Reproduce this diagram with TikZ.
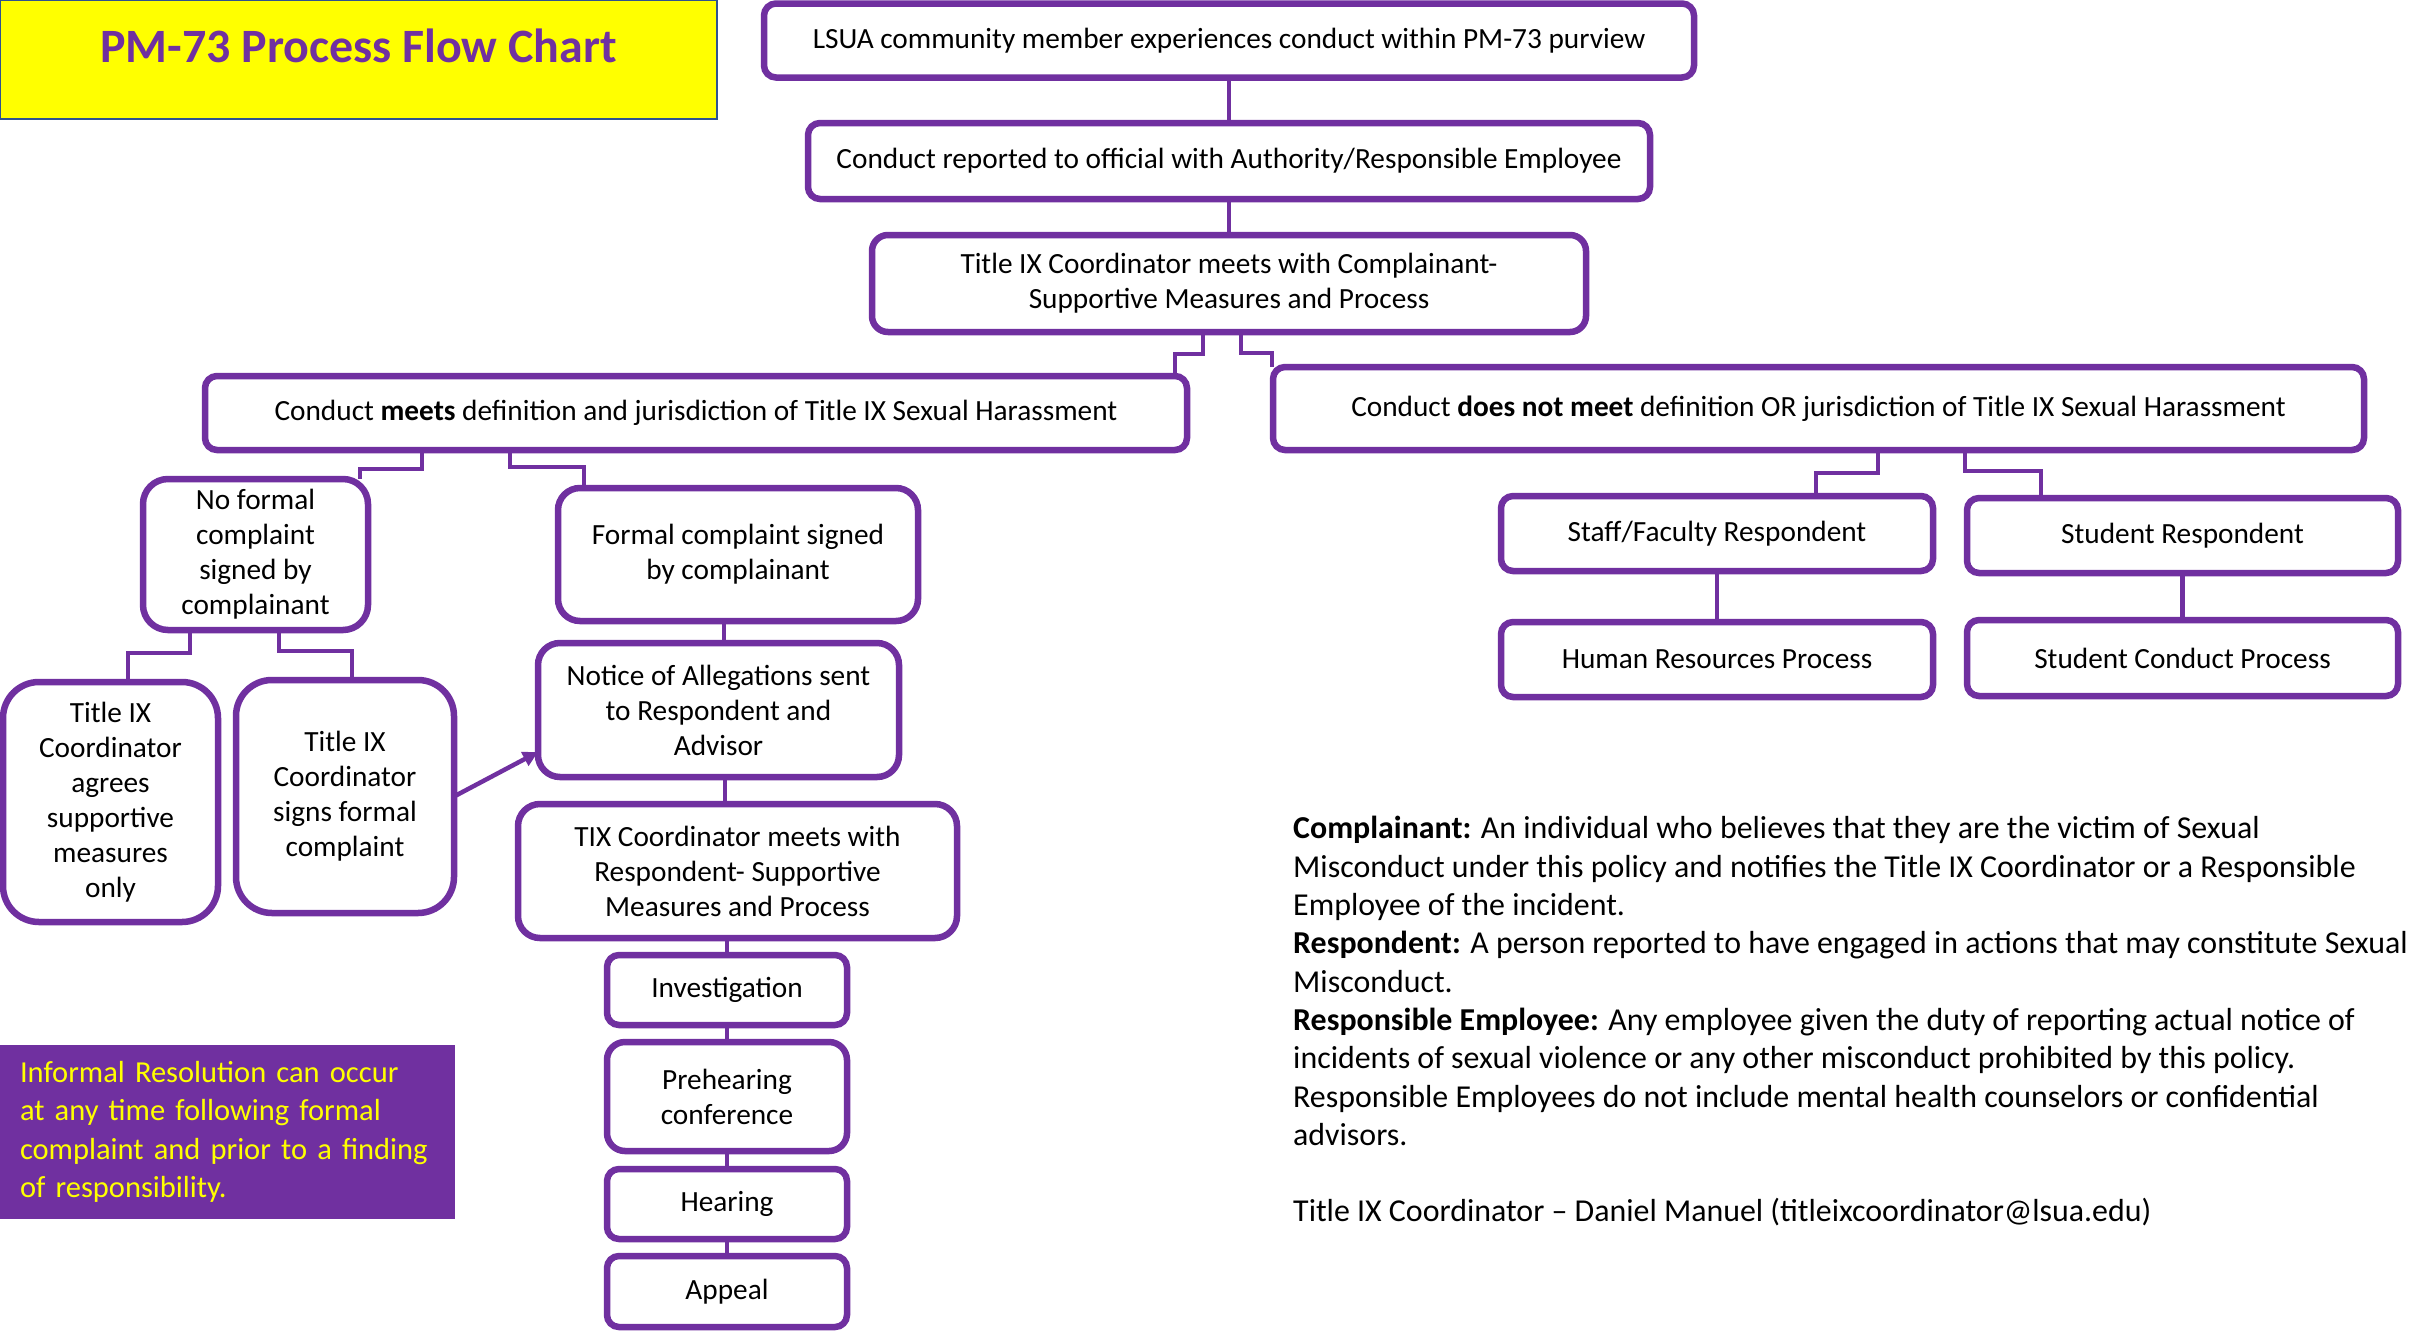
\documentclass[tikz,border=0pt]{standalone}
\usepackage{fontspec}
\setmainfont{Carlito}
\usepackage{xcolor}
\definecolor{pmPurple}{HTML}{7030A0}
\definecolor{pmYellow}{HTML}{FFFF00}
\definecolor{pmBlue}{HTML}{2F528F}
\usepackage{tikz}
\usetikzlibrary{arrows.meta,positioning}
\tikzset{
    box/.style={
        draw=pmPurple,
        fill=white,
        rectangle,
        rounded corners=#1,
        line width=6.5pt,
        align=center,
        inner sep=0pt,
        outer sep=0pt,
        text=black,
        font=\fontsize{29.3}{35}\selectfont
    },
    box/.default=12pt,
    titlebox/.style={
        draw=pmBlue,
        fill=pmYellow,
        rectangle,
        line width=2pt,
        inner sep=0pt,
        outer sep=0pt,
        minimum width=717pt,
        minimum height=119pt,
        text height=34pt,
        text depth=29pt,
        text=pmPurple,
        font=\fontsize{47.9}{57}\selectfont\bfseries
    },
    infobox/.style={
        fill=pmPurple,
        rectangle,
        inner xsep=20pt,
        inner ysep=0pt,
        minimum width=455pt,
        minimum height=174pt,
        text width=415pt,
        align=left,
        text=pmYellow,
        font=\fontsize{30.5}{38.3}\selectfont
    },
    defs/.style={
        align=left,
        inner sep=0pt,
        font=\fontsize{31.9}{38.3}\selectfont
    },
    connector/.style={
        draw=pmPurple,
        line width=4.5pt
    },
    arrow/.style={
        -{Triangle[length=15pt,width=15pt]},
        draw=pmPurple,
        line width=4.5pt
    }
}
\begin{document}
\begin{tikzpicture}[x=1pt,y=-1pt]
    \useasboundingbox (0,0) rectangle (2412,1331);
    % Title
    \node[titlebox] (title) at (358.5,59.5) {PM-73 Process Flow Chart};

    % Main column
    \node[box, minimum width=930pt, minimum height=74pt] (member) at (1229,40.5)
        {LSUA community member experiences conduct within PM-73 purview};
    \node[box, minimum width=842pt, minimum height=76pt, below=45.5pt of member] (report)
        {Conduct reported to official with Authority/Responsible Employee};
    \node[box=16pt, minimum width=714pt, minimum height=97pt, below=36pt of report] (meet)
        {Title IX Coordinator meets with Complainant-\\Supportive Measures and Process};

    % Jurisdiction
    \node[box, minimum width=982pt, minimum height=74pt] (meets) at (696,413)
        {Conduct \textbf{meets} definition and jurisdiction of Title IX Sexual Harassment};
    \node[box, minimum width=1091pt, minimum height=83pt] (notmeets) at (1818.5,408.5)
        {Conduct \textbf{does not meet} definition OR jurisdiction of Title IX Sexual Harassment};

    % Title IX branch
    \node[box=25pt, minimum width=225pt, minimum height=151pt] (noformal) at (255.5,554.5)
        {No formal\\complaint\\signed by\\complainant};
    \node[box=22pt, minimum width=360pt, minimum height=133pt] (formal) at (738,554.5)
        {Formal complaint signed\\by complainant};
    \node[box=22pt, minimum width=361pt, minimum height=134pt, below=22pt of formal, xshift=-19.5pt] (notice)
        {Notice of Allegations sent\\to Respondent and\\Advisor};
    \node[box=22pt, minimum width=439pt, minimum height=134pt, below=27pt of notice, xshift=19pt] (tixmeet)
        {TIX Coordinator meets with\\Respondent- Supportive\\Measures and Process};
    \node[box, minimum width=240pt, minimum height=70pt, below=17pt of tixmeet, xshift=-10.5pt] (investigation)
        {Investigation};
    \node[box=18pt, minimum width=240pt, minimum height=109pt, below=17pt of investigation] (prehearing)
        {Prehearing\\conference};
    \node[box, minimum width=240pt, minimum height=70pt, below=18pt of prehearing] (hearing)
        {Hearing};
    \node[box, minimum width=240pt, minimum height=71pt, below=17pt of hearing] (appeal)
        {Appeal};
    \node[box=36pt, minimum width=215pt, minimum height=240pt] (agrees) at (110.5,802)
        {Title IX\\Coordinator\\agrees\\supportive\\measures\\only};
    \node[box=36pt, minimum width=218pt, minimum height=233pt] (signs) at (345,796.5)
        {Title IX\\Coordinator\\signs formal\\complaint};
    \node[infobox] (informal) at (227.5,1132)
        {Informal Resolution can occur\\at any time following formal\\complaint and prior to a finding\\of responsibility.};

    % Other branch
    \node[box, minimum width=432pt, minimum height=75pt] (staff) at (1717,533.5)
        {Staff/Faculty Respondent};
    \node[box, minimum width=431pt, minimum height=75pt] (student) at (2182.5,535.5)
        {Student Respondent};
    \node[box, minimum width=432pt, minimum height=75pt, below=51pt of staff] (hr)
        {Human Resources Process};
    \node[box, minimum width=431pt, minimum height=76pt, below=47pt of student] (conductproc)
        {Student Conduct Process};

    % Definitions
    \node[defs, anchor=west] (terms) at (1293,1021.5)
        {\textbf{Complainant:} An individual who believes that they are the victim of Sexual\\
         Misconduct under this policy and notifies the Title IX Coordinator or a Responsible\\
         Employee of the incident.\\
         \textbf{Respondent:} A person reported to have engaged in actions that may constitute Sexual\\
         Misconduct.\\
         \textbf{Responsible Employee:} Any employee given the duty of reporting actual notice of\\
         incidents of sexual violence or any other misconduct prohibited by this policy.\\
         Responsible Employees do not include mental health counselors or confidential\\
         advisors.\\[38.3pt]
         Title IX Coordinator -- Daniel Manuel (titleixcoordinator@lsua.edu)};

    % Connectors
    \draw[connector] (member) -- (report);
    \draw[connector] (report) -- (meet);
    \draw[connector] ([xshift=-26pt]meet.south) -- ++(0,22) -| ([xshift=479pt]meets.north);
    \draw[connector] ([xshift=12pt]meet.south) -- ++(0,21) -| ([xshift=-546.5pt]notmeets.north);
    \draw[connector] ([xshift=-274pt]meets.south) -- ++(0,19) -| ([xshift=104.5pt]noformal.north);
    \draw[connector] ([xshift=-186pt]meets.south) -- ++(0,17) -| ([xshift=-154pt]formal.north);
    \draw[connector] ([xshift=-65.5pt]noformal.south) -- ++(0,23) -| ([xshift=17.5pt]agrees.north);
    \draw[connector] ([xshift=23.5pt]noformal.south) -- ++(0,21) -| ([xshift=7pt]signs.north);
    \draw[connector] ([xshift=-14pt]formal.south) -- ([xshift=5.5pt]notice.north);
    \draw[connector] ([xshift=6.5pt]notice.south) -- ([xshift=-12.5pt]tixmeet.north);
    \draw[connector] ([xshift=-10.5pt]tixmeet.south) -- (investigation.north);
    \draw[connector] (investigation) -- (prehearing);
    \draw[connector] (prehearing) -- (hearing);
    \draw[connector] (hearing) -- (appeal);
    \draw[arrow] (signs.east) -- ([yshift=-42pt]notice.west);
    \draw[connector] ([xshift=59.5pt]notmeets.south) -- ++(0,23) -| ([xshift=99pt]staff.north);
    \draw[connector] ([xshift=146.5pt]notmeets.south) -- ++(0,21) -| ([xshift=-141.5pt]student.north);
    \draw[connector] (staff) -- (hr);
    \draw[connector] (student) -- (conductproc);
\end{tikzpicture}
\end{document}
